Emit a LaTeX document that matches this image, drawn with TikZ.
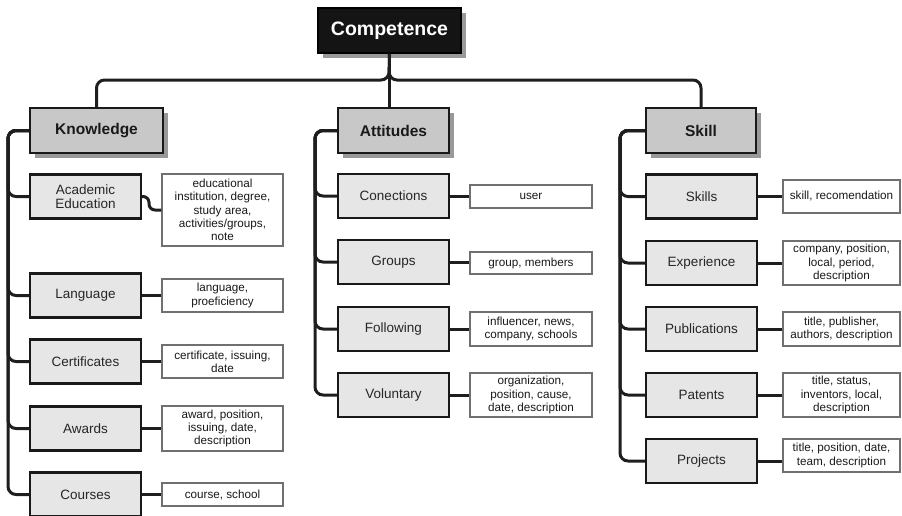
\documentclass[tikz,border=0pt]{standalone}
\usepackage{fontspec}
\setmainfont{Liberation Sans}
\usetikzlibrary{shadows}
\definecolor{wirec}{HTML}{1E1E1E}
\definecolor{headfill}{HTML}{C8C8C8}
\definecolor{subfill}{HTML}{E6E6E6}
\definecolor{attrline}{HTML}{707070}
\definecolor{txt}{HTML}{262626}
\tikzset{
  box/.style={rectangle, inner sep=0pt, align=center, text=txt},
  topbox/.style={box, fill=black!92, draw=black, line width=1.5pt, text=white,
    minimum width=143, minimum height=45,
    font=\fontsize{19.5}{22}\selectfont\bfseries,
    drop shadow={shadow xshift=5pt, shadow yshift=-5pt, fill=black!40, opacity=1}},
  headbox/.style={box, fill=headfill, draw=black!90, line width=2.3pt,
    minimum height=45, text=black!90,
    font=\fontsize{15.5}{18}\selectfont\bfseries,
    drop shadow={shadow xshift=5pt, shadow yshift=-5pt, fill=black!40, opacity=1}},
  subbox/.style={box, fill=subfill, draw=black!90, line width=2.3pt,
    minimum width=111, minimum height=44,
    font=\fontsize{13.5}{14.5}\selectfont},
  attrbox/.style={box, fill=white, draw=attrline, line width=1.3pt, text=black!90,
    font=\fontsize{11.7}{13.3}\selectfont},
  wire/.style={draw=wirec, line width=3pt, rounded corners=8pt},
}
\begin{document}
\begin{tikzpicture}[x=1pt, y=-1pt]
\useasboundingbox (0,0) rectangle (902,515);

% root and the three branches
\node[topbox] (comp) at (389.5,30.5) {Competence};
\node[headbox, minimum width=133] (know) at (96.5,130.5) {Knowledge};
\node[headbox, minimum width=111] (att) at (393.5,130.5) {Attitudes};
\node[headbox, minimum width=110] (skill) at (701,130.5) {Skill};

% Knowledge items
\node[subbox] (ae)   at (85.5,196.5) {Academic\\Education};
\node[subbox] (lang) at (85.5,295.5) {Language};
\node[subbox] (cert) at (85.5,361.5) {Certificates};
\node[subbox] (awd)  at (85.5,428.5) {Awards};
\node[subbox] (crs)  at (85.5,494.5) {Courses};

\node[attrbox, minimum width=121, minimum height=72] (aeA) at (222.5,210)
  {educational\\institution, degree,\\study area,\\activities/groups,\\note};
\node[attrbox, minimum width=121, minimum height=33] (langA) at (222.5,295.5)
  {language,\\proeficiency};
\node[attrbox, minimum width=121, minimum height=33] (certA) at (222.5,361.5)
  {certificate, issuing,\\date};
\node[attrbox, minimum width=121, minimum height=45] (awdA) at (222.5,428.5)
  {award, position,\\issuing, date,\\description};
\node[attrbox, minimum width=121, minimum height=23] (crsA) at (222.5,494.5)
  {course, school};

% Attitudes items
\node[subbox] (con) at (393.5,196) {Conections};
\node[subbox] (grp) at (393.5,262) {Groups};
\node[subbox] (fol) at (393.5,329) {Following};
\node[subbox] (vol) at (393.5,395) {Voluntary};

\node[attrbox, minimum width=122, minimum height=23] (conA) at (531,196.5) {user};
\node[attrbox, minimum width=122, minimum height=22] (grpA) at (531,263) {group, members};
\node[attrbox, minimum width=122, minimum height=34] (folA) at (531,329)
  {influencer, news,\\company, schools};
\node[attrbox, minimum width=122, minimum height=44] (volA) at (531,395)
  {organization,\\position, cause,\\date, description};

% Skill items
\node[subbox] (sks)  at (701.5,196.5) {Skills};
\node[subbox] (exp)  at (701.5,263) {Experience};
\node[subbox] (pub)  at (701.5,329) {Publications};
\node[subbox] (pat)  at (701.5,395) {Patents};
\node[subbox] (proj) at (701.5,461) {Projects};

\node[attrbox, minimum width=117, minimum height=33] (sksA) at (841.5,196.5)
  {skill, recomendation};
\node[attrbox, minimum width=117, minimum height=44] (expA) at (841.5,263)
  {company, position,\\local, period,\\description};
\node[attrbox, minimum width=117, minimum height=34] (pubA) at (841.5,329)
  {title, publisher,\\authors, description};
\node[attrbox, minimum width=117, minimum height=44] (patA) at (841.5,395)
  {title, status,\\inventors, local,\\description};
\node[attrbox, minimum width=117, minimum height=33] (projA) at (841.5,455.5)
  {title, position, date,\\team, description};

% connectors from the root
\coordinate (bus) at (389,80);
\draw[wire] (comp.south) -- (bus) -| (know.north);
\draw[wire] (comp.south) -- (bus) -| (skill.north);
\draw[wire, rounded corners=0pt] (comp.south) -- (comp.south |- att.north);

% spines
\coordinate (ksp) at (8,0);
\coordinate (asp) at (315,0);
\coordinate (ssp) at (620,0);
\foreach \n in {ae,lang,cert,awd,crs}
  \draw[wire] (know.west) -| (ksp |- \n.west) -- (\n.west);
\foreach \n in {con,grp,fol,vol}
  \draw[wire] (att.west) -| (asp |- \n.west) -- (\n.west);
\foreach \n in {sks,exp,pub,pat,proj}
  \draw[wire] (skill.west) -| (ssp |- \n.west) -- (\n.west);

% item to attribute links
\draw[wire, rounded corners=6pt] (ae.east) -- (149,196.5) -- (149,210) -- (aeA.west);
\foreach \a/\b in {lang/langA,cert/certA,awd/awdA,crs/crsA,con/conA,grp/grpA,
                   fol/folA,vol/volA,sks/sksA,exp/expA,pub/pubA,pat/patA}
  \draw[wire] (\a.east) -- (\a.east -| \b.west);
\draw[wire] (proj.east) -- (proj.east -| projA.west);
\end{tikzpicture}
\end{document}
